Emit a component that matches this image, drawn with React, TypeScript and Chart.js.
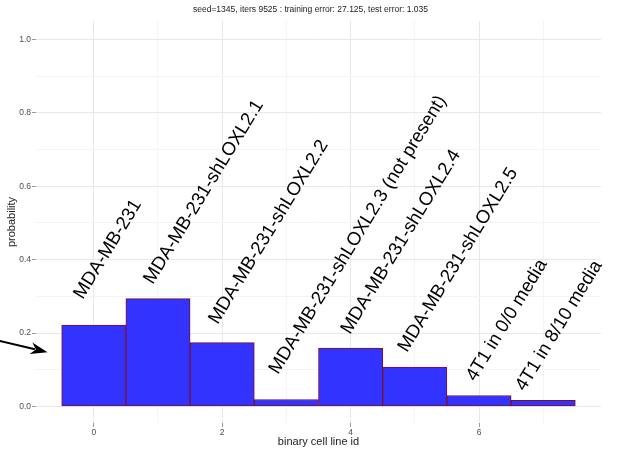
import React, { useEffect, useRef } from 'react';
import { Chart, registerables } from 'chart.js';

Chart.register(...registerables);

const titleText = 'seed=1345, iters 9525 : training error: 27.125, test error: 1.035';
const xAxisTitle = 'binary cell line id';
const yAxisTitle = 'probability';

const cellLineIds = [0, 1, 2, 3, 4, 5, 6, 7];
const probabilities = [0.222, 0.294, 0.174, 0.019, 0.159, 0.107, 0.03, 0.017];
const cellLineNames = [
  'MDA-MB-231',
  'MDA-MB-231-shLOXL2.1',
  'MDA-MB-231-shLOXL2.2',
  'MDA-MB-231-shLOXL2.3 (not present)',
  'MDA-MB-231-shLOXL2.4',
  'MDA-MB-231-shLOXL2.5',
  '4T1 in 0/0 media',
  '4T1 in 8/10 media',
];
// anchor (start of text baseline) of each rotated label, in data units
const labelAnchorX = [-0.17, 0.92, 1.93, 2.87, 3.99, 4.88, 5.94, 6.71];
const labelAnchorY = [0.29, 0.331, 0.222, 0.086, 0.195, 0.146, 0.067, 0.04];

const xTickValues = [0, 1, 2, 3, 4, 5, 6, 7];
const yTickValues = [0, 0.1, 0.2, 0.3, 0.4, 0.5, 0.6, 0.7, 0.8, 0.9, 1.0];

// arrow pointing at the first bar, data units
const arrowFrom = [-1.6, 0.184];
const arrowTo = [-0.72, 0.148];

const FONT = '"Liberation Sans", Arial, Helvetica, sans-serif';
const LABEL_ANGLE = 58.5;

const isMajorX = (v: number) => Math.round(v) % 2 === 0;
const isMajorY = (v: number) => Math.round(v * 10) % 2 === 0;

const overlayPlugin = {
  id: 'overlay',
  afterDatasetsDraw(chart: any) {
    const { ctx, chartArea } = chart;
    const x = chart.scales.x;
    const y = chart.scales.y;
    ctx.save();
    // rotated labels
    ctx.font = `18.6px ${FONT}`;
    ctx.fillStyle = '#000000';
    ctx.textAlign = 'left';
    ctx.textBaseline = 'alphabetic';
    cellLineNames.forEach((name, i) => {
      ctx.save();
      ctx.translate(x.getPixelForValue(labelAnchorX[i]), y.getPixelForValue(labelAnchorY[i]));
      ctx.rotate((-LABEL_ANGLE * Math.PI) / 180);
      ctx.fillText(name, 0, 0);
      ctx.restore();
    });
    // arrow
    const x0 = x.getPixelForValue(arrowFrom[0]);
    const y0 = y.getPixelForValue(arrowFrom[1]);
    const x1 = x.getPixelForValue(arrowTo[0]);
    const y1 = y.getPixelForValue(arrowTo[1]);
    const ang = Math.atan2(y1 - y0, x1 - x0);
    const headLen = 17;
    const headHalf = 6;
    const bx = x1 - headLen * Math.cos(ang);
    const by = y1 - headLen * Math.sin(ang);
    ctx.strokeStyle = '#000000';
    ctx.lineWidth = 2;
    ctx.beginPath();
    ctx.moveTo(x0, y0);
    ctx.lineTo(bx + 4 * Math.cos(ang), by + 4 * Math.sin(ang));
    ctx.stroke();
    ctx.beginPath();
    ctx.moveTo(x1, y1);
    ctx.lineTo(bx - headHalf * Math.sin(ang), by + headHalf * Math.cos(ang));
    ctx.lineTo(bx + 5 * Math.cos(ang), by + 5 * Math.sin(ang));
    ctx.lineTo(bx + headHalf * Math.sin(ang), by - headHalf * Math.cos(ang));
    ctx.closePath();
    ctx.fillStyle = '#000000';
    ctx.fill();
    // title
    ctx.font = `8.5px ${FONT}`;
    ctx.fillStyle = '#1a1a1a';
    ctx.textAlign = 'center';
    ctx.textBaseline = 'middle';
    ctx.fillText(titleText, (chartArea.left + chartArea.right) / 2 - 8, 10);
    ctx.restore();
  },
};

export default function App() {
  const canvasRef = useRef<HTMLCanvasElement | null>(null);

  useEffect(() => {
    if (!canvasRef.current) return;
    Chart.defaults.font.family = FONT;
    const chart = new Chart(canvasRef.current, {
      type: 'bar',
      data: {
        datasets: [
          {
            data: cellLineIds.map((id, i) => ({ x: id, y: probabilities[i] })),
            backgroundColor: 'rgb(51,51,255)',
            borderColor: 'rgb(125,15,45)',
            borderWidth: 1,
            borderSkipped: false,
            categoryPercentage: 1,
            barPercentage: 1,
          },
        ],
      },
      options: {
        animation: false,
        responsive: false,
        layout: { padding: { top: 21, right: 20, left: 0, bottom: 0 } },
        plugins: {
          legend: { display: false },
          tooltip: { enabled: false },
          title: { display: false },
        },
        scales: {
          x: {
            type: 'linear',
            min: -0.9,
            max: 7.9,
            offset: false,
            afterBuildTicks: (s: any) => {
              s.ticks = xTickValues.map((v) => ({ value: v }));
            },
            afterFit: (s: any) => {
              s.height = 27;
            },
            ticks: {
              autoSkip: false,
              maxRotation: 0,
              padding: 1,
              color: '#4d4d4d',
              font: { size: 8.5 },
              callback: (v: any) => (isMajorX(Number(v)) ? String(v) : ''),
            },
            grid: {
              offset: false,
              color: (c: any) => (c.tick && isMajorX(c.tick.value) ? '#e8e8e8' : '#f4f4f4'),
              tickColor: (c: any) => (c.tick && isMajorX(c.tick.value) ? '#999999' : 'rgba(0,0,0,0)'),
              tickLength: 4,
            },
            border: { display: false },
            title: {
              display: true,
              text: xAxisTitle,
              color: '#222222',
              font: { size: 11 },
              padding: { top: 1, bottom: 1 },
            },
          },
          y: {
            type: 'linear',
            min: -0.045,
            max: 1.05,
            afterBuildTicks: (s: any) => {
              s.ticks = yTickValues.map((v) => ({ value: v }));
            },
            afterFit: (s: any) => {
              s.width = 36;
            },
            ticks: {
              autoSkip: false,
              padding: 1,
              color: '#4d4d4d',
              font: { size: 8.5 },
              callback: (v: any) => (isMajorY(Number(v)) ? Number(v).toFixed(1) : ''),
            },
            grid: {
              color: (c: any) => (c.tick && isMajorY(c.tick.value) ? '#e8e8e8' : '#f4f4f4'),
              tickColor: (c: any) => (c.tick && isMajorY(c.tick.value) ? '#999999' : 'rgba(0,0,0,0)'),
              tickLength: 4,
            },
            border: { display: false },
            title: {
              display: true,
              text: yAxisTitle,
              color: '#222222',
              font: { size: 11 },
              padding: { top: 5, bottom: 0 },
            },
          },
        },
      } as any,
      plugins: [overlayPlugin],
    });
    return () => chart.destroy();
  }, []);

  return (
    <div style={{ position: 'absolute', left: 0, top: 0, width: 621, height: 450, background: '#ffffff' }}>
      <canvas ref={canvasRef} width={621} height={450} style={{ display: 'block' }} />
    </div>
  );
}
